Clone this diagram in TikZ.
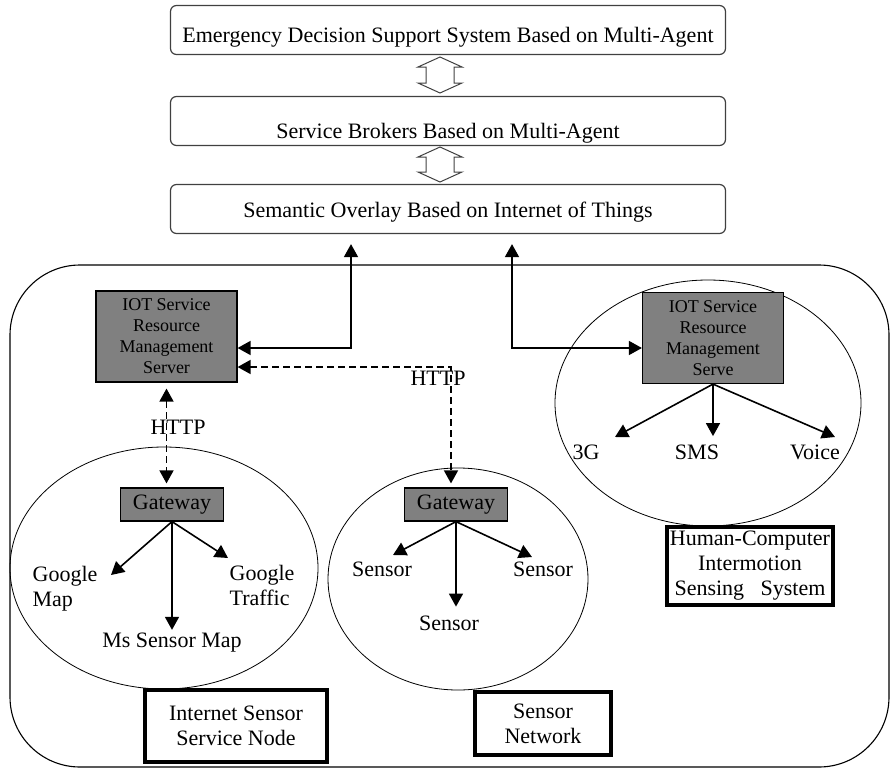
\documentclass[tikz,border=0pt]{standalone}
\usepackage{fontspec}
\setmainfont{Liberation Serif}
\usetikzlibrary{arrows.meta,positioning}

\definecolor{srvgray}{RGB}{128,128,128}
\tikzset{
  layer/.style={draw=black!75, line width=1.2pt, rounded corners=6pt,
    minimum width=555pt, minimum height=49pt, inner ysep=0pt, text depth=5pt},
  server/.style={draw, fill=srvgray, line width=1.2pt, align=center,
    inner sep=0pt, minimum width=141pt, minimum height=91pt,
    font=\fontsize{18}{21}\selectfont},
  gateway/.style={draw, fill=srvgray, line width=1.2pt, inner sep=0pt,
    minimum width=103pt, minimum height=33pt},
  caption/.style={draw, fill=white, line width=3.5pt, align=center, inner sep=0pt},
  link/.style={line width=1.6pt},
  httplink/.style={link, dash pattern=on 7pt off 4pt}
}

\begin{document}
\begin{tikzpicture}[x=1pt, y=-1pt, >={Triangle[length=13pt, width=14pt]},
  font=\fontsize{22}{25}\selectfont]
  \useasboundingbox (0,0) rectangle (892,769);
  \pgfmathsetmacro{\ArrowX}{440}
  % layers
  \node[layer, text height=29pt] (eds) at (448,30) {Emergency Decision Support System Based on Multi-Agent};
  \node[layer, text height=39pt] (brk) at (448,121) {Service Brokers Based on Multi-Agent};
  \node[layer, text height=21pt] (sem) at (448,209) {Semantic Overlay Based on Internet of Things};
  \foreach \yt/\yb in {57/93,147/182}
    \draw[line width=1pt, draw=black!75] (\ArrowX,\yt) -- ++(22,10) -- ++(-8,0) -- ({\ArrowX+14},{\yb-10})
      -- ++(8,0) -- (\ArrowX,\yb) -- ++(-22,-10) -- ++(8,0) -- ({\ArrowX-14},{\yt+10}) -- ++(-8,0) -- cycle;
  % frame and cells
  \draw[line width=1.1pt, rounded corners=70pt] (10,265) rectangle (889,767);
  \draw[line width=0.8pt] (164,568) ellipse [x radius=154pt, y radius=121pt];
  \draw[line width=0.8pt] (458,579) ellipse [x radius=130pt, y radius=111pt];
  \draw[line width=0.8pt] (708,403) ellipse [x radius=153pt, y radius=123pt];
  % servers and gateways
  \node[server] (srvL) at (166.5,336.5) {IOT Service\\Resource\\Management\\Server};
  \node[server] (srvR) at (713,338) {IOT Service\\Resource\\Management\\Serve};
  \node[gateway] (gwL) at (172,504.5) {Gateway};
  \node[gateway] (gwR) at (456,504.5) {Gateway};
  % labels
  \node[align=left] (gmap) at (65,589) {Google\\Map};
  \node[align=left] (gtraf) at (262,585) {Google\\Traffic};
  \node (msmap) at (172,643) {Ms Sensor Map};
  \node (sensL) at (382,569) {Sensor};
  \node (sensR) at (543,569) {Sensor};
  \node (sensB) at (449,623) {Sensor};
  \node (g3) at (586,452) {3G};
  \node (sms) at (697,452) {SMS};
  \node (voice) at (815,452) {Voice};
  \node (httpL) at (178,427) {HTTP};
  \node (httpR) at (438,378) {HTTP};
  \node[caption, minimum width=182pt, minimum height=72pt] (nodecap) at (236,726) {Internet Sensor\\Service Node};
  \node[caption, minimum width=136pt, minimum height=63pt] (netcap) at (543,723.5) {Sensor\\Network};
  \node[caption, minimum width=166pt, minimum height=78pt] (hcicap) at (750,566)
    {Human-Computer\\Intermotion\\Sensing \enspace System};
  % connectors
  \coordinate (bendL) at (351,348);
  \coordinate (bendR) at (512,348);
  \coordinate (httpbend) at (451,367);
  \draw[link, <->, shorten <=10pt] (sem.south -| bendL) -- (bendL) -- (bendL -| srvL.east);
  \draw[link, <->, shorten <=10pt] (sem.south -| bendR) -- (bendR) -- (bendR -| srvR.west);
  \draw[httplink, <->, shorten >=4pt] (httpbend -| srvL.east) -- (httpbend) -- (httpbend |- gwR.north);
  \draw[httplink, <->, shorten <=6pt, shorten >=4pt] (srvL.south) -- (srvL.south |- gwL.north);
  \coordinate (tGmap) at (111,575);
  \coordinate (tGtraf) at (228,558);
  \coordinate (tSensL) at (393,555);
  \coordinate (tSensR) at (532,557);
  \coordinate (t3G) at (615,437);
  \coordinate (tVoice) at (835,437);
  \foreach \t in {tGmap, tGtraf}
    \draw[link, ->] (gwL.south) -- (\t);
  \draw[link, ->] (gwL.south) -- (gwL.south |- msmap.north);
  \foreach \t in {tSensL, tSensR}
    \draw[link, ->] (gwR.south) -- (\t);
  \draw[link, ->] (gwR.south) -- ++(0,85);
  \foreach \t in {t3G, tVoice}
    \draw[link, ->] (srvR.south) -- (\t);
  \draw[link, ->] (srvR.south) -- ++(0,52);
\end{tikzpicture}
\end{document}
